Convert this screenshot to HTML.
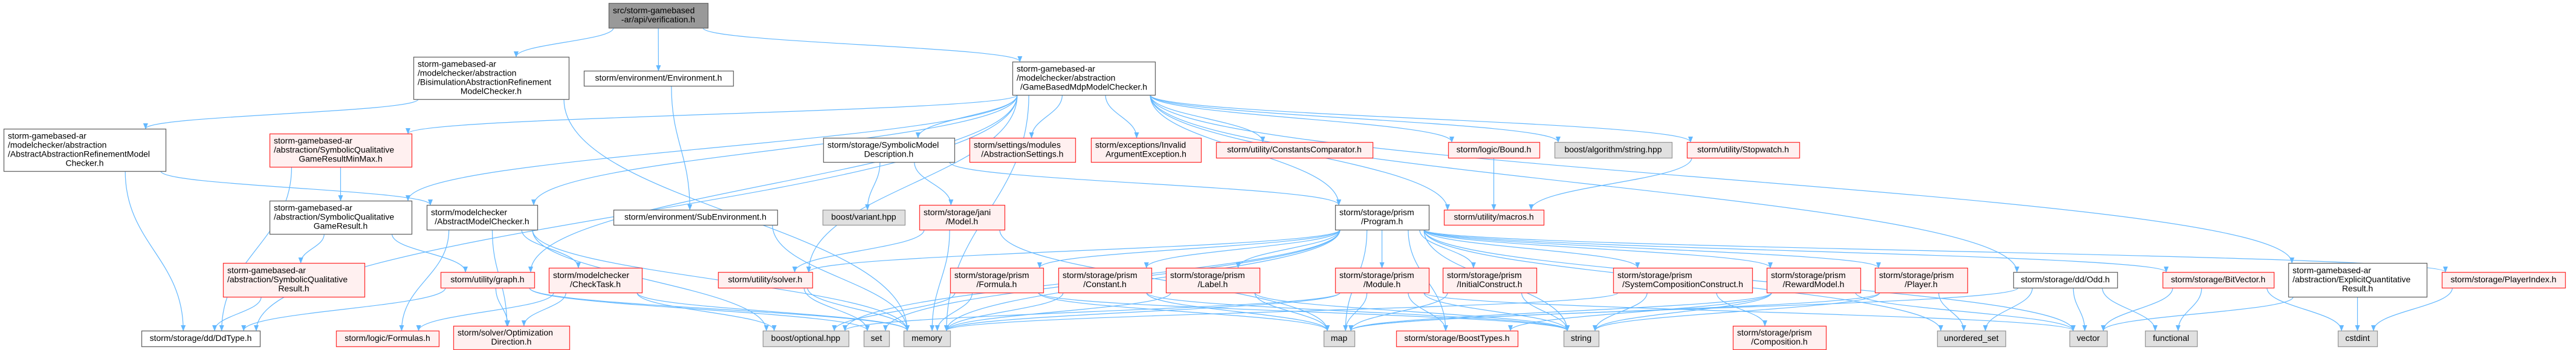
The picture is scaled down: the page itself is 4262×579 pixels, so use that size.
<!DOCTYPE html>
<html><head><meta charset="utf-8">
<style>
html,body{margin:0;padding:0;background:#fff;}
svg{display:block;}
text{font-family:"Liberation Sans",sans-serif;font-size:14px;fill:#000;}
</style></head>
<body>
<svg id="g" xmlns="http://www.w3.org/2000/svg" width="4262" height="579" viewBox="0 0 4262 579">
<defs>
<marker id="ah" markerWidth="10" markerHeight="8" refX="9" refY="4" orient="auto" markerUnits="userSpaceOnUse">
<path d="M0,0 L10,4 L0,8 Z" fill="#63b8ff"/>
</marker>
</defs>
<g id="edges"></g>
<g id="nodes"></g>
</svg>
<script>
var N={
root:[1007,5,1171,46,'k',["src/storm-gamebased","-ar/api/verification.h"]],
bisim:[684,94,941,164,'w',["storm-gamebased-ar","/modelchecker/abstraction","/BisimulationAbstractionRefinement","ModelChecker.h"]],
env:[966,117,1213,142,'w',["storm/environment/Environment.h"]],
gbm:[1675,102,1911,157,'w',["storm-gamebased-ar","/modelchecker/abstraction","/GameBasedMdpModelChecker.h"]],
abs:[6,213,274,283,'w',["storm-gamebased-ar","/modelchecker/abstraction","/AbstractAbstractionRefinementModel","Checker.h"]],
minmax:[446,221,681,276,'r',["storm-gamebased-ar","/abstraction/SymbolicQualitative","GameResultMinMax.h"]],
smd:[1362,228,1579,268,'w',["storm/storage/SymbolicModel","Description.h"]],
aset:[1604,228,1779,268,'r',["storm/settings/modules","/AbstractionSettings.h"]],
inv:[1805,228,1987,268,'r',["storm/exceptions/Invalid","ArgumentException.h"]],
cc:[2012,235,2271,261,'r',["storm/utility/ConstantsComparator.h"]],
bound:[2396,235,2547,261,'r',["storm/logic/Bound.h"]],
balg:[2572,235,2766,261,'g',["boost/algorithm/string.hpp"]],
sw:[2791,235,2977,261,'r',["storm/utility/Stopwatch.h"]],
sqgr:[446,332,681,387,'w',["storm-gamebased-ar","/abstraction/SymbolicQualitative","GameResult.h"]],
amc:[706,339,889,380,'w',["storm/modelchecker","/AbstractModelChecker.h"]],
subenv:[1015,347,1286,372,'w',["storm/environment/SubEnvironment.h"]],
bvar:[1361,347,1497,372,'g',["boost/variant.hpp"]],
jani:[1521,339,1662,380,'r',["storm/storage/jani","/Model.h"]],
prog:[2209,339,2364,380,'w',["storm/storage/prism","/Program.h"]],
macros:[2389,347,2554,372,'r',["storm/utility/macros.h"]],
sqres:[369,435,603,491,'r',["storm-gamebased-ar","/abstraction/SymbolicQualitative","Result.h"]],
graph:[729,450,884,476,'r',["storm/utility/graph.h"]],
ct:[908,443,1062,484,'r',["storm/modelchecker","/CheckTask.h"]],
solver:[1188,450,1344,476,'r',["storm/utility/solver.h"]],
formula:[1572,443,1726,484,'r',["storm/storage/prism","/Formula.h"]],
constant:[1751,443,1905,484,'r',["storm/storage/prism","/Constant.h"]],
label:[1929,443,2084,484,'r',["storm/storage/prism","/Label.h"]],
module:[2209,443,2364,484,'r',["storm/storage/prism","/Module.h"]],
initc:[2387,443,2542,484,'r',["storm/storage/prism","/InitialConstruct.h"]],
syscomp:[2669,443,2899,484,'r',["storm/storage/prism","/SystemCompositionConstruct.h"]],
reward:[2923,443,3078,484,'r',["storm/storage/prism","/RewardModel.h"]],
player:[3102,443,3255,484,'r',["storm/storage/prism","/Player.h"]],
odd:[3331,450,3503,476,'w',["storm/storage/dd/Odd.h"]],
bitv:[3578,450,3762,476,'r',["storm/storage/BitVector.h"]],
eqr:[3786,435,4015,491,'w',["storm-gamebased-ar","/abstraction/ExplicitQuantitative","Result.h"]],
pidx:[4040,450,4244,476,'r',["storm/storage/PlayerIndex.h"]],
ddtype:[234,547,430,573,'w',["storm/storage/dd/DdType.h"]],
formulas:[556,547,726,573,'r',["storm/logic/Formulas.h"]],
optdir:[750,539,942,578,'r',["storm/solver/Optimization","Direction.h"]],
bopt:[1262,547,1404,573,'g',["boost/optional.hpp"]],
set:[1429,547,1471,573,'g',["set"]],
memory:[1495,547,1572,573,'g',["memory"]],
map:[2190,547,2241,573,'g',["map"]],
boosttypes:[2310,547,2511,573,'r',["storm/storage/BoostTypes.h"]],
string:[2587,547,2645,573,'g',["string"]],
composition:[2867,539,3021,578,'r',["storm/storage/prism","/Composition.h"]],
uset:[3205,547,3318,573,'g',["unordered_set"]],
vector:[3424,547,3486,573,'g',["vector"]],
functional:[3549,547,3635,573,'g',["functional"]],
cstdint:[3868,547,3933,573,'g',["cstdint"]]
};
var E=[
['root','bisim'],['root','env'],['root','gbm'],
['bisim','abs'],['bisim','memory'],
['abs','amc'],['abs','ddtype'],
['env','subenv'],['subenv','memory'],
['gbm','minmax'],['gbm','sqgr'],['gbm','ddtype'],['gbm','amc'],['gbm','graph'],['gbm','solver'],['gbm','smd'],['gbm','aset'],['gbm','inv'],['gbm','cc'],['gbm','prog'],['gbm','macros'],['gbm','bound'],['gbm','balg'],['gbm','sw'],['gbm','odd'],['gbm','eqr'],['gbm','memory'],
['minmax','sqgr'],['minmax','ddtype'],
['sqgr','sqres'],['sqgr','graph'],['sqres','ddtype'],
['amc','ct'],['amc','formulas'],['amc','optdir'],['amc','bopt'],['amc','memory'],
['graph','ddtype'],['graph','optdir'],['graph','set'],['graph','memory'],
['ct','formulas'],['ct','optdir'],['ct','bopt'],['ct','memory'],
['smd','bvar'],['smd','jani'],['smd','prog'],
['jani','solver'],['jani','memory'],['jani','map'],
['solver','memory'],['solver','set'],
['prog','formula'],['prog','constant'],['prog','label'],['prog','module'],['prog','initc'],['prog','syscomp'],['prog','reward'],['prog','player'],['prog','map'],['prog','boosttypes'],['prog','string'],['prog','set'],['prog','memory'],['prog','bopt'],['prog','vector'],['prog','bitv'],['prog','pidx'],['prog','solver'],['prog','uset'],
['formula','map'],['formula','string'],['formula','bopt'],['formula','memory'],
['constant','map'],['constant','string'],['constant','memory'],
['label','map'],['label','string'],['label','memory'],
['module','map'],['module','boosttypes'],['module','string'],['module','memory'],['module','bopt'],['module','vector'],
['initc','map'],['initc','string'],
['syscomp','composition'],['syscomp','string'],['syscomp','memory'],
['reward','map'],['reward','string'],['reward','boosttypes'],['reward','vector'],
['player','uset'],['player','map'],['player','string'],
['odd','uset'],['odd','vector'],['odd','functional'],['odd','map'],
['bitv','vector'],['bitv','functional'],['bitv','cstdint'],
['eqr','vector'],['eqr','cstdint'],['pidx','cstdint'],
['bound','macros'],['sw','macros']
];
var NS='http://www.w3.org/2000/svg';
var eg=document.getElementById('edges'),ng=document.getElementById('nodes');
function cl(v,a,b){return Math.max(a,Math.min(b,v));}
E.forEach(function(e){
 var s=N[e[0]],t=N[e[1]];
 var scx=(s[0]+s[2])/2,tcx=(t[0]+t[2])/2;
 var sx=cl(scx+(tcx-scx)*0.35,s[0]+8,s[2]-8),sy=s[3];
 var tx=cl(tcx+(scx-tcx)*0.15,t[0]+6,t[2]-6),ty=t[1];
 var dy=ty-sy;
 var p=document.createElementNS(NS,'path');
 p.setAttribute('d','M'+sx+','+sy+' C'+sx+','+(sy+dy*0.45)+' '+tx+','+(ty-dy*0.45)+' '+tx+','+ty);
 p.setAttribute('fill','none');p.setAttribute('stroke','#63b8ff');p.setAttribute('stroke-width','1.2');
 p.setAttribute('marker-end','url(#ah)');
 eg.appendChild(p);
});
var ST={k:['#999999','#666666'],w:['#ffffff','#666666'],r:['#fff0f0','#ff3333'],g:['#e0e0e0','#999999']};
for(var k in N){
 var n=N[k],r=document.createElementNS(NS,'rect');
 r.setAttribute('x',n[0]+0.5);r.setAttribute('y',n[1]+0.5);
 r.setAttribute('width',n[2]-n[0]);r.setAttribute('height',n[3]-n[1]);
 r.setAttribute('fill',ST[n[4]][0]);r.setAttribute('stroke',ST[n[4]][1]);r.setAttribute('stroke-width','1.3');
 ng.appendChild(r);
 var L=n[5],h=15,y0=(n[1]+n[3])/2-(L.length*h)/2+11.5;
 L.forEach(function(l,i){
  var t=document.createElementNS(NS,'text');
  if(i<L.length-1){t.setAttribute('x',n[0]+7);}
  else{t.setAttribute('x',(n[0]+n[2])/2);t.setAttribute('text-anchor','middle');}
  t.setAttribute('y',y0+i*h);t.textContent=l;ng.appendChild(t);
 });
}
</script>
</body></html>
